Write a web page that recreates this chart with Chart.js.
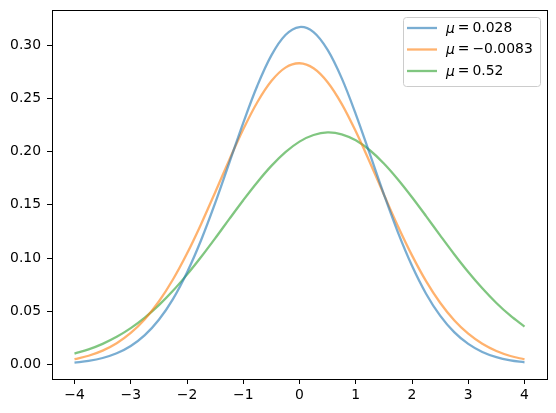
<!DOCTYPE html>
<html>
<head>
<meta charset="utf-8">
<script src="https://cdn.jsdelivr.net/npm/chart.js@4/dist/chart.umd.min.js"></script>
<style>
html,body{margin:0;padding:0;background:#fff;}
#wrap{width:556px;height:413px;position:relative;}
</style>
</head>
<body>
<div id="wrap"><canvas id="c" width="556" height="413"></canvas></div>
<script>
// x positions of sampled points
const xValues = [-4,-3.75,-3.5,-3.25,-3,-2.75,-2.5,-2.25,-2,-1.75,-1.5,-1.25,-1,-0.75,-0.5,-0.25,0,0.25,0.5,0.75,1,1.25,1.5,1.75,2,2.25,2.5,2.75,3,3.25,3.5,3.75,4];
const seriesLabels = ["0.028", "\u22120.0083", "0.52"];
const blueValues = [0.00188,0.00349,0.00621,0.01064,0.01750,0.02769,0.0421,0.0615,0.0865,0.1168,0.1516,0.1893,0.2271,0.2619,0.2904,0.3095,0.3170,0.3122,0.2955,0.2690,0.2353,0.1978,0.1599,0.1242,0.0928,0.0666,0.0460,0.0305,0.01947,0.01193,0.00703,0.00398,0.00217];
const orangeValues = [0.00514,0.00835,0.01317,0.02011,0.02977,0.0427,0.0593,0.0799,0.1043,0.1319,0.1617,0.1920,0.2210,0.2464,0.2663,0.2789,0.2830,0.2783,0.2652,0.2449,0.2191,0.1900,0.1597,0.1300,0.1026,0.0784,0.0581,0.0417,0.0290,0.01958,0.01279,0.00810,0.00497];
const greenValues = [0.01032,0.01432,0.01952,0.02612,0.03428,0.04417,0.05585,0.06932,0.0845,0.1010,0.1185,0.1366,0.1544,0.1713,0.1866,0.1995,0.2094,0.2156,0.2180,0.2163,0.2106,0.2013,0.1889,0.1739,0.1572,0.1395,0.1214,0.1037,0.0870,0.0717,0.0579,0.0459,0.0357];
const xTicks = [-4,-3,-2,-1,0,1,2,3,4];
const yTicks = [0,0.05,0.10,0.15,0.20,0.25,0.30];

const FONT = "'DejaVu Sans', sans-serif";
const FS = 13.9;
function pts(vals){ return xValues.map((x,i)=>({x:x,y:vals[i]})); }

const legendPlugin = {
  id: 'mplLegend',
  afterDraw(chart){
    const ctx = chart.ctx;
    const ca = chart.chartArea;
    const bx = ca.right - 144, by = ca.top + 7, bw = 137, bh = 69;
    ctx.save();
    ctx.beginPath();
    if (ctx.roundRect) ctx.roundRect(bx+0.5, by+0.5, bw, bh, 3); else ctx.rect(bx+0.5,by+0.5,bw,bh);
    ctx.fillStyle = 'rgba(255,255,255,0.8)';
    ctx.fill();
    ctx.strokeStyle = '#cccccc';
    ctx.lineWidth = 1;
    ctx.stroke();
    chart.data.datasets.forEach((ds, i) => {
      const y = by + 11 + i * 21.5;
      ctx.beginPath();
      ctx.moveTo(bx + 4, y);
      ctx.lineTo(bx + 34, y);
      ctx.strokeStyle = ds.borderColor;
      ctx.lineWidth = 2.3;
      ctx.stroke();
      ctx.fillStyle = '#000';
      ctx.textBaseline = 'middle';
      ctx.font = 'italic ' + FS + 'px ' + FONT;
      let tx = bx + 43;
      ctx.fillText('\u03bc', tx, y + 1);
      tx += ctx.measureText('\u03bc').width + 3;
      ctx.font = FS + 'px ' + FONT;
      ctx.fillText('=', tx, y);
      tx += ctx.measureText('=').width + 3;
      ctx.fillText(ds.valueLabel, tx, y);
    });
    ctx.restore();
  }
};

new Chart(document.getElementById('c'), {
  type: 'line',
  data: {
    datasets: [
      {label: '\u03bc = ' + seriesLabels[0], valueLabel: seriesLabels[0], data: pts(blueValues), borderColor: 'rgba(31,119,180,0.6)'},
      {label: '\u03bc = ' + seriesLabels[1], valueLabel: seriesLabels[1], data: pts(orangeValues), borderColor: 'rgba(255,127,14,0.6)'},
      {label: '\u03bc = ' + seriesLabels[2], valueLabel: seriesLabels[2], data: pts(greenValues), borderColor: 'rgba(44,160,44,0.6)'}
    ].map(d => Object.assign(d, {borderWidth: 2.3, pointRadius: 0, fill: false, tension: 0.35}))
  },
  options: {
    responsive: false,
    animation: false,
    layout: {padding: {left: 0, top: 10, right: 9, bottom: 0}},
    plugins: {legend: {display: false}, tooltip: {enabled: false}},
    scales: {
      x: {
        type: 'linear', min: -4.4, max: 4.4,
        afterBuildTicks(s){ s.ticks = xTicks.map(v => ({value: v})); },
        afterFit(s){ s.height = 34; s.paddingLeft = 0; s.paddingRight = 0; },
        border: {color: '#000', width: 1},
        grid: {drawOnChartArea: false, color: '#000', tickLength: 5, tickWidth: 1},
        ticks: {color: '#000', padding: 3, font: {family: FONT, size: FS}, maxRotation: 0,
          callback: v => (v < 0 ? '\u2212' + Math.abs(v) : String(v))}
      },
      y: {
        type: 'linear', min: -0.0135, max: 0.333,
        afterBuildTicks(s){ s.ticks = yTicks.map(v => ({value: v})); },
        afterFit(s){ s.width = 52; s.paddingTop = 0; s.paddingBottom = 0; },
        border: {color: '#000', width: 1},
        grid: {drawOnChartArea: false, color: '#000', tickLength: 5, tickWidth: 1},
        ticks: {color: '#000', padding: 6, font: {family: FONT, size: FS},
          callback: v => v.toFixed(2)}
      }
    }
  },
  plugins: [legendPlugin, {
    id: 'frame',
    afterDraw(chart){
      const {ctx, chartArea: a} = chart;
      ctx.save(); ctx.strokeStyle = '#000'; ctx.lineWidth = 1;
      ctx.strokeRect(Math.round(a.left)+0.5, Math.round(a.top)+0.5, Math.round(a.right-a.left), Math.round(a.bottom-a.top));
      ctx.restore();
    }
  }]
});
</script>
</body>
</html>
